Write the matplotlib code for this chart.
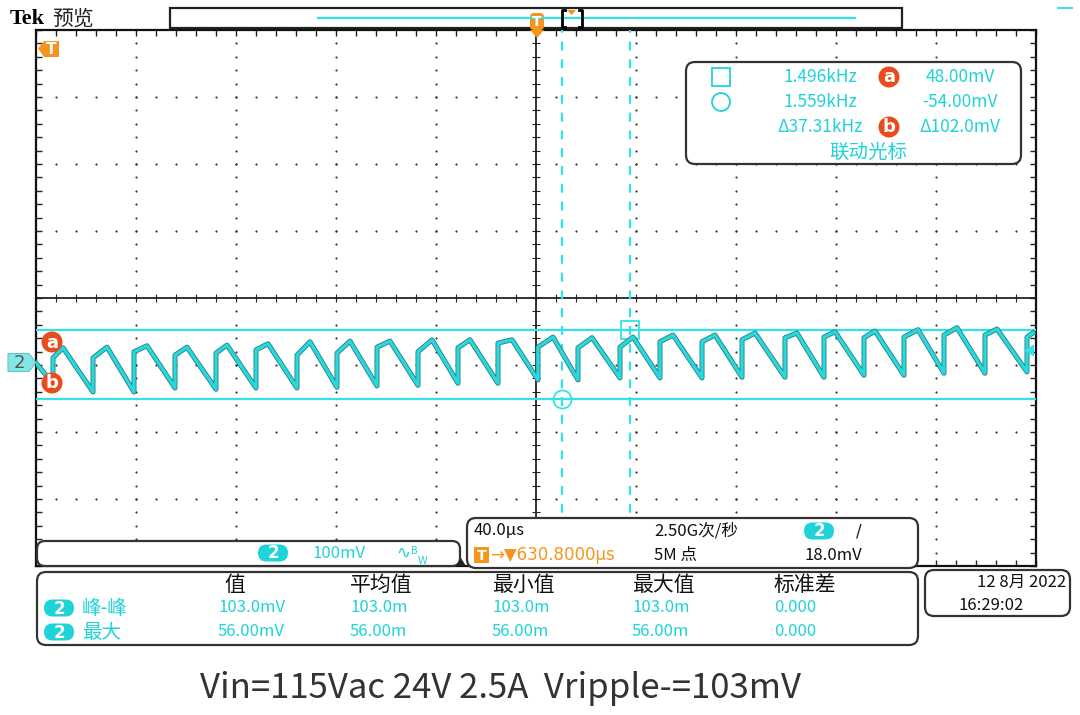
import numpy as np
import matplotlib.pyplot as plt
from matplotlib.patches import FancyBboxPatch, Rectangle, Circle, Polygon

plt.rcParams['font.family'] = ['Noto Sans CJK SC', 'DejaVu Sans']

CYAN = '#1fd3d8'
CYAN_LINE = '#33e2e6'
ORANGE = '#f7941d'
RED_ORANGE = '#ea4b1c'

# scope settings
US_PER_DIV = 40.0
MV_PER_DIV = 100.0
CH2_POS = -0.963          # channel 2 ground, in divisions from centre

# channel 2 trace (time in us from trigger, voltage in mV)
start_t, start_mv = -200.0, -1.0
rise_t = [-193.2, -177.2, -160.8, -144.4, -128.0, -112.0, -95.6, -79.6, -63.6,
          -47.2, -31.2, -15.2, 0.8, 16.8, 33.6, 49.6, 66.4, 82.4, 99.6, 115.2,
          131.2, 147.2, 163.2, 179.6, 196.4]
trough_mv = [-31, -44, -44, -38, -40, -38, -38, -37, -35, -34, -31, -31, -26,
             -26, -23, -23, -23, -22, -22, -22, -19, -19, -16, -16, -14]
jump_top_mv = [7, 7, 16, 11, 14, 19, 11, 14, 23, 16, 22, 29, 23, 22, 23, 31,
               31, 34, 37, 38, 37, 38, 41, 41, 38]
peak_t = [-189.2, -171.6, -155.6, -139.6, -123.6, -107.2, -90.4, -74.4, -58.4,
          -41.6, -26.4, -9.6, 6.8, 22.4, 38.8, 54.8, 71.6, 87.6, 104.4, 119.6,
          135.6, 152.8, 168.4, 184.4, 198.8]
peak_mv = [22, 23, 25, 23, 26, 28, 31, 32, 32, 34, 34, 34, 38, 37, 38, 41, 41,
           44, 44, 46, 47, 49, 52, 50, 44]

# cursors
cursor_t = [10.6, 37.6]       # us
cursor_mv = [48.0, -54.0]     # mV (a, b)
trig_level_mv = 18.0

readout_freq = ['1.496kHz', '1.559kHz', 'Δ37.31kHz']
readout_volt = ['48.00mV', '-54.00mV', 'Δ102.0mV']

meas_headers = ['值', '平均值', '最小值', '最大值', '标准差']
meas_names = ['峰-峰', '最大']
meas_values = [['103.0mV', '103.0m', '103.0m', '103.0m', '0.000'],
               ['56.00mV', '56.00m', '56.00m', '56.00m', '0.000']]

caption = 'Vin=115Vac 24V 2.5A  Vripple-=103mV'


def to_x(t):
    return np.asarray(t) / US_PER_DIV


def to_y(mv):
    return np.asarray(mv) / MV_PER_DIV + CH2_POS


fig = plt.figure(figsize=(10.8, 7.15), dpi=100)
fig.patch.set_facecolor('white')

# ---- scope screen ----
ax = fig.add_axes([36 / 1080, 1 - 566 / 715, 1000 / 1080, 536 / 715], zorder=1)
ax.set_xlim(-5, 5)
ax.set_ylim(-4, 4)
for s in ax.spines.values():
    s.set_linewidth(1.6)
    s.set_color('#111111')
ax.set_xticks([])
ax.set_yticks([])
ax.set_xticks(np.arange(-5, 5.01, 0.2), minor=True)
ax.set_yticks(np.arange(-4, 4.01, 0.2), minor=True)
ax.tick_params(which='minor', direction='in', length=4, width=1, color='#222222',
               top=True, right=True, labelbottom=False, labelleft=False)

# graticule dots
fine_x = np.arange(-5, 5.01, 0.2)
fine_y = np.arange(-4, 4.01, 0.2)
for gx in [-4, -3, -2, -1, 1, 2, 3, 4]:
    ax.scatter(np.full(fine_y.shape, gx), fine_y, s=2.4, color='#333333', lw=0)
for gy in [-3, -2, -1, 1, 2, 3]:
    ax.scatter(fine_x, np.full(fine_x.shape, gy), s=2.4, color='#333333', lw=0)
ax.axhline(0, color='#222222', lw=1.3)
ax.axvline(0, color='#222222', lw=1.3)
ax.scatter(fine_x, np.zeros_like(fine_x), marker='|', s=30, color='#222222', lw=0.8)
ax.scatter(np.zeros_like(fine_y), fine_y, marker='_', s=30, color='#222222', lw=0.8)

# cursors
for mv in cursor_mv:
    ax.axhline(to_y(mv), color=CYAN_LINE, lw=1.6, zorder=3)
for t in cursor_t:
    ax.axvline(to_x(t), color=CYAN_LINE, lw=1.6, ls=(0, (4, 4)), zorder=3)
ax.plot(to_x(cursor_t[1]), to_y(cursor_mv[0]), marker='s', ms=13, mfc='none',
        mec=CYAN_LINE, mew=1.3, zorder=4)
ax.plot(to_x(cursor_t[0]), to_y(cursor_mv[1]), marker='o', ms=13, mfc='none',
        mec=CYAN_LINE, mew=1.3, zorder=4)

# trace
tt = [start_t]
vv = [start_mv]
for i in range(len(rise_t)):
    tt += [rise_t[i], rise_t[i], peak_t[i]]
    vv += [trough_mv[i], jump_top_mv[i], peak_mv[i]]
ax.plot(to_x(tt), to_y(vv), color='#2b7d80', lw=3.6, solid_joinstyle='round', zorder=5)
ax.plot(to_x(tt), to_y(vv), color='#27d8dc', lw=2.4, solid_joinstyle='round', zorder=6)

# ---- overlay in pixel coords ----
ov = fig.add_axes([0, 0, 1, 1], zorder=5)
ov.set_xlim(0, 1080)
ov.set_ylim(715, 0)
ov.axis('off')
ov.patch.set_visible(False)


def rbox(x0, y0, x1, y1, r=9):
    ov.add_patch(FancyBboxPatch((x0, y0), x1 - x0, y1 - y0,
                                boxstyle=f'round,pad=0,rounding_size={r}',
                                fc='white', ec='#333333', lw=1.6))


def pill(x, y, size=12):
    ov.add_patch(FancyBboxPatch((x - 15, y - 8.5), 30, 17,
                                boxstyle='round,pad=0,rounding_size=8.5',
                                fc=CYAN, ec='none'))
    ov.text(x, y + 0.5, '2', ha='center', va='center', color='white', fontsize=size,
            fontweight='bold', family='DejaVu Sans')


def letter(x, y, ch, r=10.5):
    ov.add_patch(Circle((x, y), r, fc=RED_ORANGE, ec='none'))
    ov.text(x, y + 0.5, ch, ha='center', va='center', color='white', fontsize=13,
            fontweight='bold', family='DejaVu Sans')


# header
ov.text(10, 19, 'Tek', fontsize=16, fontweight='bold', family='Liberation Serif',
        va='center', ha='left', color='black')
ov.text(52, 19, '预览', fontsize=15, va='center', ha='left', color='#222222')
ov.add_patch(Rectangle((170, 8), 732, 20, fc='white', ec='#222222', lw=1.6))
ov.plot([318, 855], [18, 18], color=CYAN_LINE, lw=1.6)
ov.plot([565, 562, 562, 565], [10, 10, 27, 27], color='black', lw=2)
ov.plot([579, 582, 582, 579], [10, 10, 27, 27], color='black', lw=2)
ov.add_patch(Polygon([[567, 10], [576, 10], [571.5, 15]], fc=ORANGE, ec='none'))
ov.add_patch(FancyBboxPatch((530, 13), 14, 17, boxstyle='round,pad=0,rounding_size=4',
                            fc=ORANGE, ec='none'))
ov.text(537, 21.5, 'T', ha='center', va='center', color='white', fontsize=10,
        fontweight='bold', family='DejaVu Sans')
ov.add_patch(Polygon([[530, 30], [544, 30], [537, 38]], fc=ORANGE, ec='none'))
ov.plot([1058, 1072], [8, 8], color=CYAN_LINE, lw=1.4)

# trigger marker top-left
ov.add_patch(Polygon([[38, 48.5], [44, 41], [59, 41], [59, 57], [44, 57]], fc=ORANGE, ec='none'))
ov.text(51, 49, 'T', ha='center', va='center', color='white', fontsize=11,
        fontweight='bold', family='DejaVu Sans')

# channel 2 marker and trigger level marker
gy = 362.5
ov.add_patch(Polygon([[8, gy - 9], [29, gy - 9], [36, gy], [29, gy + 9], [8, gy + 9]],
                     fc='#86e6e6', ec='#5cc8c8', lw=0.8))
ov.text(19, gy, '2', ha='center', va='center', color='#555555', fontsize=13, family='DejaVu Sans')
tl = gy - trig_level_mv / MV_PER_DIV * 67
ov.add_patch(Polygon([[1024, tl], [1034, tl - 6], [1034, tl + 6]], fc=CYAN_LINE, ec='none'))

letter(52, 342, 'a')
letter(52, 383, 'b')

# cursor readout box
rbox(686, 62, 1021, 164)
ov.add_patch(Rectangle((712, 68), 18, 18, fc='none', ec=CYAN, lw=1.3))
ov.add_patch(Circle((721, 102), 9, fc='none', ec=CYAN, lw=1.3))
for i, y in enumerate([77, 102, 127]):
    ov.text(820, y, readout_freq[i], ha='center', va='center', color=CYAN, fontsize=12.5)
    ov.text(960, y, readout_volt[i], ha='center', va='center', color=CYAN, fontsize=12.5)
letter(889, 77, 'a')
letter(889, 127, 'b')
ov.text(868, 152, '联动光标', ha='center', va='center', color=CYAN, fontsize=14)

# channel box
rbox(37, 541, 460, 566, r=8)
pill(273, 553)
ov.text(312, 553, '100mV', ha='left', va='center', color=CYAN, fontsize=12)
ov.text(396, 553, '∿', ha='left', va='center', color=CYAN, fontsize=12, family='DejaVu Sans')
ov.text(411, 556, 'B', ha='left', va='bottom', color=CYAN, fontsize=7, family='DejaVu Sans')
ov.text(418, 556, 'W', ha='left', va='top', color=CYAN, fontsize=7, family='DejaVu Sans')
ov.add_patch(Polygon([[456, 566], [466, 566], [461, 558]], fc='#222222', ec='none'))

# horizontal box
rbox(467, 518, 918, 568, r=9)
ov.text(474, 531, '40.0µs', ha='left', va='center', color='#111111', fontsize=12)
ov.text(654, 531, '2.50G次/秒', ha='left', va='center', color='#111111', fontsize=12)
pill(819, 531)
ov.text(856, 531, '/', ha='left', va='center', color='#222222', fontsize=12, family='DejaVu Sans')
ov.add_patch(Rectangle((474, 547), 15, 16, fc=ORANGE, ec='none'))
ov.text(481.5, 555.5, 'T', ha='center', va='center', color='white', fontsize=10,
        fontweight='bold', family='DejaVu Sans')
ov.text(490, 555, '→▼630.8000µs', ha='left', va='center', color=ORANGE, fontsize=12,
        family=['DejaVu Sans'])
ov.text(654, 555, '5M 点', ha='left', va='center', color='#111111', fontsize=12)
ov.text(804, 555, '18.0mV', ha='left', va='center', color='#111111', fontsize=12)

# measurement box
rbox(37, 572, 918, 645, r=9)
col_x = [224, 350, 492, 632, 774]
for x, h in zip(col_x, meas_headers):
    ov.text(x, 585, h, ha='left', va='center', color='#111111', fontsize=15)
for r, y in enumerate([608, 632]):
    pill(59, y)
    ov.text(82, y, meas_names[r], ha='left', va='center', color=CYAN, fontsize=14)
    for x, v in zip(col_x, meas_values[r]):
        ov.text(x - 6 if v.endswith('mV') else x, y, v, ha='left', va='center',
                color=CYAN, fontsize=12)

# date box
rbox(925, 570, 1070, 616, r=9)
ov.text(1066, 582, '12 8月 2022', ha='right', va='center', color='#111111', fontsize=12)
ov.text(958, 606, '16:29:02', ha='left', va='center', color='#111111', fontsize=12)

# caption
ov.text(500, 688, caption, ha='center', va='center', color='#333333', fontsize=25)

fig.savefig('out.png', dpi=100, facecolor='white')
